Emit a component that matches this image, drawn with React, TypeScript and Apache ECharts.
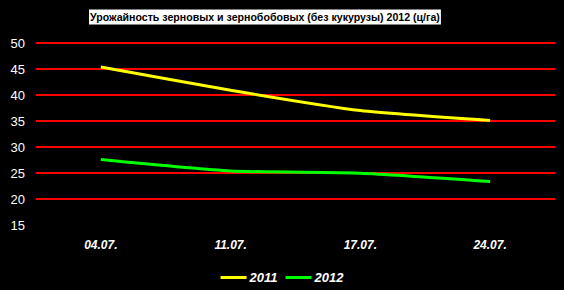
import React, { useEffect, useRef } from "react";
import * as echarts from "echarts";

const categories = ["04.07.", "11.07.", "17.07.", "24.07."];
const series2011 = [45.4, 40.9, 37.0, 35.1];
const series2012 = [27.6, 25.4, 24.95, 23.35];
const yTicks = { min: 15, max: 50, interval: 5 };

export default function App() {
  const ref = useRef<HTMLDivElement>(null);
  useEffect(() => {
    if (!ref.current) return;
    const chart = echarts.init(ref.current, null, { renderer: "svg" });
    chart.setOption({
      animation: false,
      backgroundColor: "#000",
      title: {
        text: "{b|Урожайность зерновых и зернобобовых (без кукурузы) 2012}{n| (ц/га)}",
        left: 89,
        top: 9,
        backgroundColor: "#fff",
        padding: [2, 1, 2, 1],
        textStyle: {
          rich: {
            b: { fontFamily: "Liberation Sans, Arial", fontSize: 10.6, fontWeight: "bold", color: "#000", lineHeight: 12 },
            n: { fontFamily: "Liberation Sans, Arial", fontSize: 10.6, color: "#000", lineHeight: 12 },
          },
        },
      },
      legend: {
        bottom: 1,
        left: "center",
        itemWidth: 26,
        itemHeight: 3,
        itemGap: 8,
        icon: "rect",
        textStyle: {
          color: "#fff",
          fontFamily: "Liberation Sans, Arial",
          fontSize: 13,
          fontWeight: "bold",
          fontStyle: "italic",
          padding: [0, 0, 0, -2],
        },
        data: ["2011", "2012"],
      },
      grid: { left: 36, right: 9, top: 43, bottom: 65 },
      xAxis: {
        type: "category",
        data: categories,
        boundaryGap: true,
        axisLine: { show: false },
        axisTick: { show: false },
        axisLabel: {
          color: "#fff",
          fontFamily: "Liberation Sans, Arial",
          fontSize: 12,
          fontWeight: "bold",
          fontStyle: "italic",
          margin: 14,
        },
      },
      yAxis: {
        type: "value",
        min: yTicks.min,
        max: yTicks.max,
        interval: yTicks.interval,
        axisLine: { show: false },
        axisTick: { show: false },
        splitLine: {
          showMinLine: false,
          lineStyle: { color: "#ff0000", width: 2 },
        },
        axisLabel: {
          color: "#fff",
          fontFamily: "Liberation Sans, Arial",
          fontSize: 13,
          margin: 11,
        },
      },
      series: [
        {
          name: "2011",
          type: "line",
          data: series2011,
          smooth: 0.2,
          showSymbol: false,
          symbol: "none",
          itemStyle: { color: "#ffff00" },
          lineStyle: { color: "#ffff00", width: 3 },
        },
        {
          name: "2012",
          type: "line",
          data: series2012,
          smooth: 0.2,
          showSymbol: false,
          symbol: "none",
          itemStyle: { color: "#00ff00" },
          lineStyle: { color: "#00ff00", width: 3 },
        },
      ],
    });
    return () => chart.dispose();
  }, []);
  return (
    <div
      ref={ref}
      style={{ position: "fixed", left: 0, top: 0, width: 564, height: 290 }}
    />
  );
}
